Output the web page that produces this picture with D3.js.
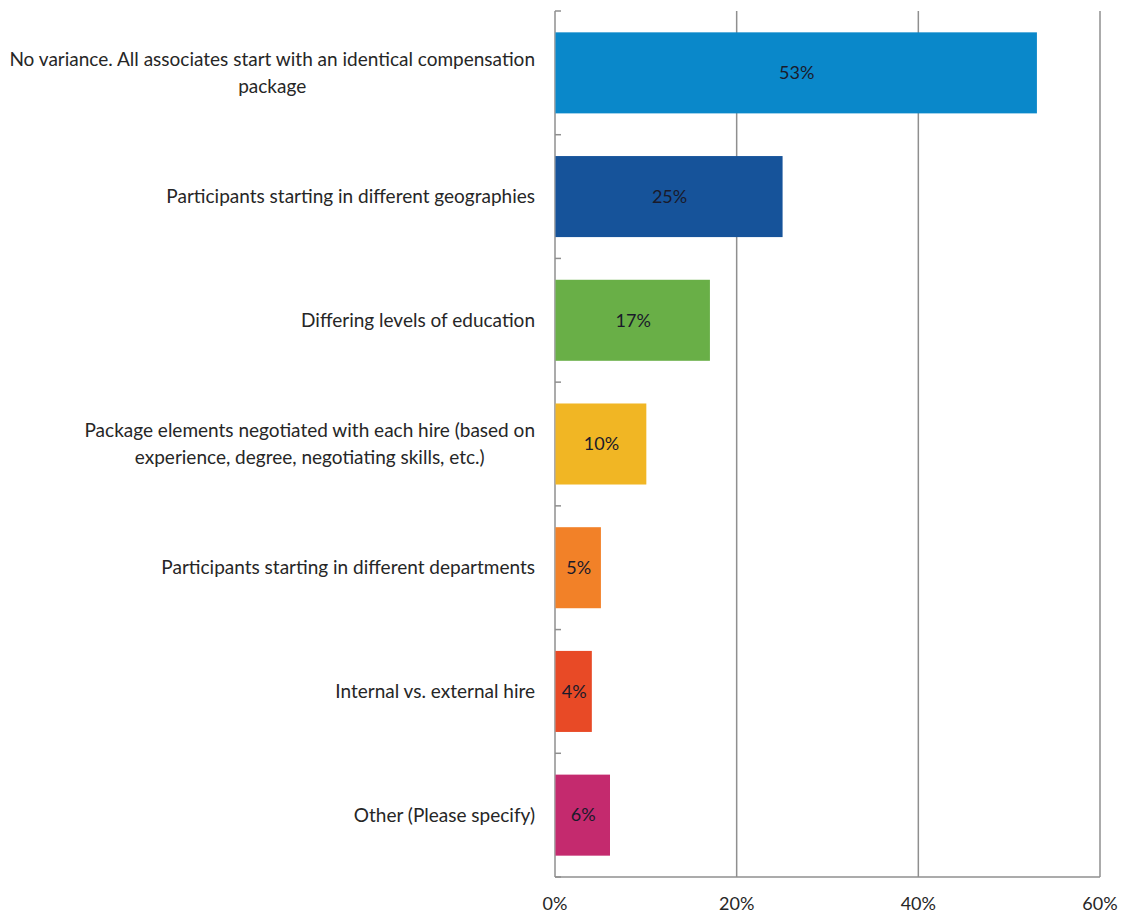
<!DOCTYPE html>
<html>
<head>
<meta charset="utf-8">
<script src="https://cdn.jsdelivr.net/npm/d3@7"></script>
<style>
  html, body { margin: 0; padding: 0; background: #fff; }
  svg { display: block; }
  text { font-family: Lato, "Noto Sans", sans-serif; fill: #262626; }
</style>
</head>
<body>
<svg id="chart" width="1128" height="913"></svg>
<script>
// Survey responses: sources of variance in starting compensation
const categories = [
  ["No variance. All associates start with an identical compensation", "package"],
  ["Participants starting in different geographies"],
  ["Differing levels of education"],
  ["Package elements negotiated with each hire (based on", "experience, degree, negotiating skills, etc.)"],
  ["Participants starting in different departments"],
  ["Internal vs. external hire"],
  ["Other (Please specify)"]
];
const values = [53, 25, 17, 10, 5, 4, 6];
const barColors = ["#0A88CA", "#16539A", "#69AF47", "#F1B624", "#F28128", "#E84A26", "#C42A6E"];
const xTicks = [0, 20, 40, 60];

const svg = d3.select("#chart");
const plotLeft = 555, plotRight = 1100, plotTop = 11, plotBottom = 877;

const x = d3.scaleLinear().domain([0, 60]).range([plotLeft, plotRight]);
const y = d3.scaleBand()
  .domain(d3.range(values.length))
  .range([plotTop, plotBottom])
  .paddingInner(0.345)
  .paddingOuter(0.1725);

// vertical gridlines (0% line doubles as the category axis)
svg.append("g")
  .selectAll("line")
  .data(xTicks)
  .join("line")
  .attr("x1", d => x(d)).attr("x2", d => x(d))
  .attr("y1", plotTop).attr("y2", plotBottom)
  .attr("stroke", "#8f8f8f")
  .attr("stroke-width", 1.5);

// bottom axis line
svg.append("line")
  .attr("x1", plotLeft).attr("x2", plotRight)
  .attr("y1", plotBottom).attr("y2", plotBottom)
  .attr("stroke", "#8f8f8f")
  .attr("stroke-width", 1.5);

// category boundary ticks on the left axis
const boundaries = d3.range(values.length + 1).map(i => plotTop + i * y.step());
svg.append("g")
  .selectAll("line")
  .data(boundaries)
  .join("line")
  .attr("x1", plotLeft).attr("x2", plotLeft + 6)
  .attr("y1", d => d).attr("y2", d => d)
  .attr("stroke", "#8f8f8f")
  .attr("stroke-width", 1.5);

// bars
svg.append("g")
  .selectAll("rect")
  .data(values)
  .join("rect")
  .attr("x", x(0) + 0.5)
  .attr("y", (d, i) => y(i))
  .attr("width", d => x(d) - x(0))
  .attr("height", y.bandwidth())
  .attr("fill", (d, i) => barColors[i]);

// value labels inside bars
svg.append("g")
  .selectAll("text")
  .data(values)
  .join("text")
  .attr("x", d => (x(0) + x(d)) / 2 + 1)
  .attr("y", (d, i) => y(i) + y.bandwidth() / 2)
  .attr("dy", "0.35em")
  .attr("text-anchor", "middle")
  .style("font-size", "18px")
  .style("fill", "#1a1a2a")
  .text(d => d + "%");

// category labels: lines centred on each other, block right-aligned at the axis
const labelRight = 535, lineH = 27;
const catG = svg.append("g");
categories.forEach((lines, i) => {
  const g = catG.append("g");
  const texts = lines.map((ln, j) => g.append("text")
    .style("font-size", "19px")
    .attr("text-anchor", "middle")
    .attr("dy", "0.35em")
    .attr("y", y(i) + y.bandwidth() / 2 + (j - (lines.length - 1) / 2) * lineH)
    .text(ln));
  const maxW = d3.max(texts, t => t.node().getComputedTextLength());
  texts.forEach(t => t.attr("x", labelRight - maxW / 2));
});

// percentage axis labels
svg.append("g")
  .selectAll("text")
  .data(xTicks)
  .join("text")
  .attr("x", d => x(d))
  .attr("y", 910)
  .attr("text-anchor", "middle")
  .style("font-size", "18px")
  .text(d => d + "%");
</script>
</body>
</html>
